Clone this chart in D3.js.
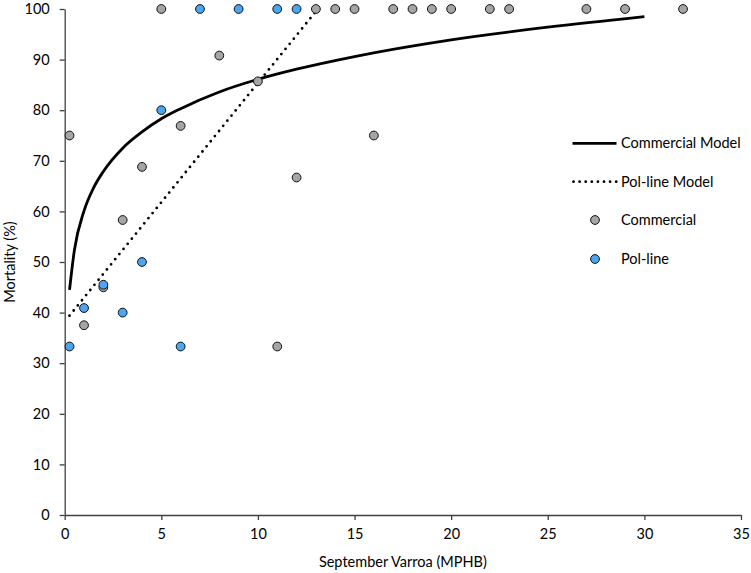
<!DOCTYPE html>
<html>
<head>
<meta charset="utf-8">
<script src="https://cdn.jsdelivr.net/npm/d3@7"></script>
<style>
  body { margin: 0; background: #fff; }
  svg text { font-family: Lato, "Open Sans", sans-serif; fill: #000; }
</style>
</head>
<body>
<svg width="751" height="573"></svg>
<script>
// Commercial colonies (gray)
const commercialX = [5, 13, 14, 15, 17, 18, 19, 20, 22, 23, 27, 29, 32, 8, 10, 6, 0.25, 16, 4, 12, 3, 2, 1, 11];
const commercialY = [100, 100, 100, 100, 100, 100, 100, 100, 100, 100, 100, 100, 100, 90.8, 85.7, 76.9, 75, 75, 68.8, 66.7, 58.3, 45, 37.5, 33.3];

// Pol-line colonies (blue)
const polX = [7, 9, 11, 12, 5, 4, 2, 1, 3, 0.25, 6];
const polY = [100, 100, 100, 100, 80, 50, 45.5, 40.9, 40, 33.3, 33.3];

// model curves
const commercialModelX = [0.25, 0.5, 1, 1.5, 2, 3, 4, 5, 6, 8, 10, 12, 15, 20, 25, 30];
const commercialModelY = [44.5, 52.3, 60.1, 64.7, 67.9, 72.5, 75.7, 78.3, 80.3, 83.6, 86.1, 88.1, 90.6, 93.9, 96.4, 98.5];
const polModelX = [0.25, 13.1];
const polModelY = [39.4, 100];

const xTicks = [0, 5, 10, 15, 20, 25, 30, 35];
const yTicks = [0, 10, 20, 30, 40, 50, 60, 70, 80, 90, 100];

const legendItems = ['Commercial Model', 'Pol-line Model', 'Commercial', 'Pol-line'];

const svg = d3.select('svg');
const margin = { top: 9, right: 10, bottom: 58, left: 64.7 };
const width = 741 - margin.left;
const height = 515 - margin.top;

const g = svg.append('g')
  .attr('transform', `translate(${margin.left},${margin.top})`);

const x = d3.scaleLinear().domain([0, 35]).range([0, width]);
const y = d3.scaleLinear().domain([0, 100]).range([height, 0]);

const axisColor = '#404040';

const xAxisG = g.append('g')
  .attr('transform', `translate(0,${height})`)
  .call(d3.axisBottom(x).tickValues(xTicks).tickSize(5).tickPadding(9).tickSizeOuter(0));
const yAxisG = g.append('g')
  .call(d3.axisLeft(y).tickValues(yTicks).tickSize(5).tickPadding(10).tickSizeOuter(0));

[xAxisG, yAxisG].forEach(a => {
  a.selectAll('.domain, .tick line').attr('stroke', axisColor).attr('stroke-width', 1.3);
  a.selectAll('text').style('font-size', '14.5px').style('font-family', 'Lato, "Open Sans", sans-serif').attr('fill', '#000');
});

g.append('text')
  .attr('x', width / 2)
  .attr('y', height + 52)
  .attr('text-anchor', 'middle')
  .style('font-size', '14.5px')
  .text('September Varroa (MPHB)');

g.append('text')
  .attr('transform', `translate(${10 - margin.left},${y(50)}) rotate(-90)`)
  .attr('dy', '0.35em')
  .attr('text-anchor', 'middle')
  .style('font-size', '14.5px')
  .text('Mortality (%)');

const line = d3.line().x(d => x(d[0])).y(d => y(d[1]));

g.append('path')
  .datum(d3.zip(commercialModelX, commercialModelY))
  .attr('fill', 'none')
  .attr('stroke', '#000')
  .attr('stroke-width', 2.8)
  .attr('d', line.curve(d3.curveMonotoneX));

g.append('path')
  .datum(d3.zip(polModelX, polModelY))
  .attr('fill', 'none')
  .attr('stroke', '#000')
  .attr('stroke-width', 2.8)
  .attr('stroke-linecap', 'round')
  .attr('stroke-dasharray', '0 6.6')
  .attr('d', d3.line().x(d => x(d[0])).y(d => y(d[1]))(d3.zip(polModelX, polModelY)));

const grayFill = '#a5a5a5';
const blueFill = '#4aa5f2';

g.selectAll('circle.comm')
  .data(d3.zip(commercialX, commercialY))
  .enter().append('circle')
  .attr('class', 'comm')
  .attr('cx', d => x(d[0]))
  .attr('cy', d => y(d[1]))
  .attr('r', 4.4)
  .attr('fill', grayFill)
  .attr('stroke', '#111')
  .attr('stroke-width', 1);

g.selectAll('circle.pol')
  .data(d3.zip(polX, polY))
  .enter().append('circle')
  .attr('class', 'pol')
  .attr('cx', d => x(d[0]))
  .attr('cy', d => y(d[1]))
  .attr('r', 4.4)
  .attr('fill', blueFill)
  .attr('stroke', '#111')
  .attr('stroke-width', 1);

// Legend
const legend = svg.append('g');
const legY = [143.3, 181.7, 220, 259];

legend.append('line')
  .attr('x1', 572.5).attr('x2', 616.5)
  .attr('y1', legY[0]).attr('y2', legY[0])
  .attr('stroke', '#000').attr('stroke-width', 2.8);

legend.append('line')
  .attr('x1', 573.5).attr('x2', 616.5)
  .attr('y1', legY[1]).attr('y2', legY[1])
  .attr('stroke', '#000').attr('stroke-width', 2.8)
  .attr('stroke-linecap', 'round')
  .attr('stroke-dasharray', '0 6.1');

legend.append('circle')
  .attr('cx', 595).attr('cy', legY[2]).attr('r', 4.4)
  .attr('fill', grayFill).attr('stroke', '#111');

legend.append('circle')
  .attr('cx', 595).attr('cy', legY[3]).attr('r', 4.4)
  .attr('fill', blueFill).attr('stroke', '#111');

legend.selectAll('text')
  .data(legendItems)
  .enter().append('text')
  .attr('x', 621)
  .attr('y', (d, i) => legY[i])
  .attr('dy', '0.35em')
  .style('font-size', '14.5px')
  .text(d => d);
</script>
</body>
</html>
